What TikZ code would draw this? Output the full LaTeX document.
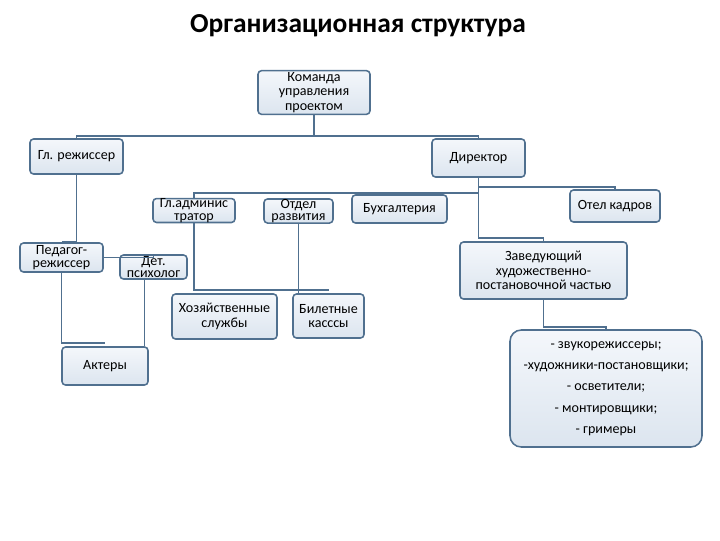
\documentclass[tikz,border=0pt]{standalone}
\usepackage{fontspec}
\setmainfont{Carlito}
\usepackage{xcolor}
\usetikzlibrary{positioning,calc}

\definecolor{edgecol}{HTML}{50708F}
\definecolor{boxtop}{HTML}{F4F7FB}
\definecolor{boxbot}{HTML}{DCE5EF}

\begin{document}
\begin{tikzpicture}[x=0.025cm, y=-0.025cm,
  font=\fontsize{10}{10.5}\selectfont,
  box/.style={draw=edgecol, line width=1.1pt, rounded corners=2.5pt, align=center,
    top color=boxtop, bottom color=boxbot, inner sep=1pt},
  tight/.style={box, inner ysep=0pt, font=\fontsize{10}{9}\selectfont},
  link/.style={draw=edgecol, line width=1.4pt}]

\useasboundingbox (0,0) rectangle (720,540);

\node (title) at (358,26) {\fontsize{19.5}{22}\selectfont\bfseries Организационная структура};

\node (cmd) [box, minimum width=112*0.025cm, minimum height=43*0.025cm] at (314,92.5) {Команда\\управления\\проектом};
\node (rezh) [box, minimum width=93*0.025cm, minimum height=35*0.025cm] at (76.5,156.5) {Гл. режиссер};
\node (dir) [box, minimum width=93*0.025cm, minimum height=38*0.025cm] at (478.5,158) {Директор};

\node (adm) [tight, minimum width=82*0.025cm, minimum height=23*0.025cm] at (194,210.5) {Гл.админис\\тратор};
\node (otd) [tight, minimum width=69*0.025cm, minimum height=24*0.025cm] at (298.5,211) {Отдел\\развития};
\node (buh) [box, minimum width=95*0.025cm, minimum height=28*0.025cm] at (399.5,209) {Бухгалтерия};
\node (kadr) [box, minimum width=90*0.025cm, minimum height=32*0.025cm] at (615,206) {Отел кадров};
\node (zav) [box, minimum width=167*0.025cm, minimum height=57*0.025cm] at (543.5,270.5) {Заведующий\\художественно-\\постановочной частью};

\node (ped) [tight, minimum width=83*0.025cm, minimum height=29*0.025cm] at (61.5,257.5) {Педагог-\\режиссер};
\node (psy) [tight, minimum width=67*0.025cm, minimum height=24*0.025cm] at (153.5,267) {Дет.\\психолог};
\node (akt) [box, minimum width=86*0.025cm, minimum height=38*0.025cm] at (105,366) {Актеры};
\node (hoz) [box, minimum width=105*0.025cm, minimum height=45*0.025cm] at (224.5,316.5) {Хозяйственные\\службы};
\node (bil) [box, minimum width=71*0.025cm, minimum height=44*0.025cm] at (328.5,316) {Билетные\\касссы};

\node (staff) [box, rounded corners=8pt, minimum width=192*0.025cm, minimum height=117*0.025cm,
  font=\fontsize{10}{15.2}\selectfont] at (606,388.5)
  {- звукорежиссеры;\\-художники-постановщики;\\- осветители;\\- монтировщики;\\- гримеры};

% шины
\coordinate (top) at (0,136);
\coordinate (d1) at (0,187);
\coordinate (d2) at (0,193);
\coordinate (d3) at (0,238);
\coordinate (d4) at (0,290);
\coordinate (d5) at (0,327);

\draw[link] (cmd.south) -- (cmd.south |- top);
\draw[link] (rezh.north) -- (rezh.north |- top) -- (dir.north |- top) -- (dir.north);

\draw[link] (dir.south) -- (dir.south |- d3) -| (zav.north);
\draw[link] (dir.south |- d1) -| (kadr.north);
\draw[link] (adm.north) -- (adm.north |- d2) -- (dir.south |- d2);

\draw[link] (adm.south) -- (adm.south |- d4) -- (bil.north |- d4);
\draw[link] (otd.south) -- (otd.south |- bil.north);

\draw[link] (zav.south) -- (zav.south |- d5) -| (staff.north);

\draw[link] (rezh.south) |- (ped.north);
\draw[link] (ped.east) -| (psy.north);
\draw[link] (ped.south) |- ([yshift=0.075cm]akt.north);
\draw[link] ([xshift=-0.225cm]psy.south) -- ([xshift=-0.225cm]psy.south |- akt.north);

\end{tikzpicture}
\end{document}
